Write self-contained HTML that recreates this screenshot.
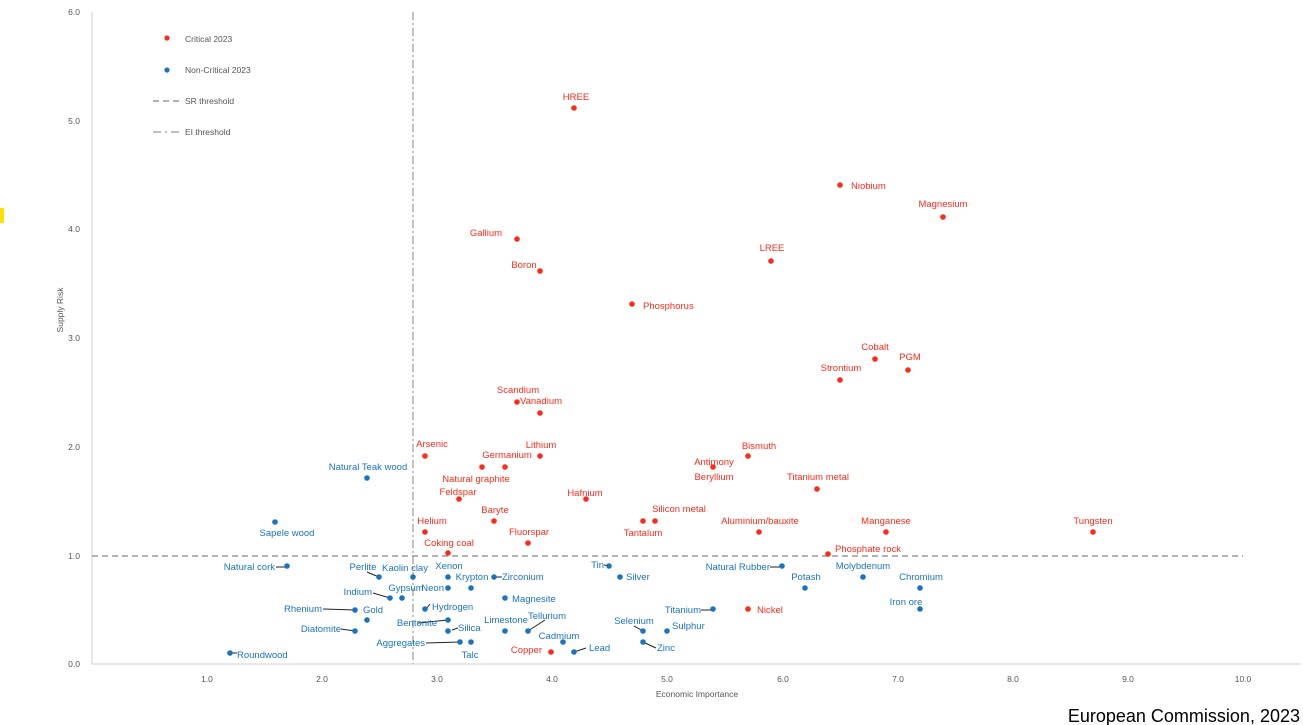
<!DOCTYPE html>
<html><head><meta charset="utf-8"><style>
body{margin:0;background:#fff;width:1303px;height:725px;overflow:hidden;position:relative}
svg{position:absolute;left:0;top:0}
.t{font-family:"Liberation Sans",sans-serif;font-size:9.5px;}
.r{fill:#ff2a1a}.b{fill:#1a73c0}
.tk{fill:#555;font-size:8.5px}
</style></head><body>
<div style="position:absolute;left:0;top:208px;width:4px;height:15px;background:#ffe000"></div>
<svg width="1303" height="725" class="t">
<line x1="92" y1="12" x2="92" y2="664" stroke="#d0d0d0"/>
<line x1="92" y1="664" x2="1300" y2="664" stroke="#d0d0d0"/>
<line x1="92" y1="556" x2="1243" y2="556" stroke="#999" stroke-width="1.6" stroke-dasharray="6,4"/>
<line x1="413" y1="12" x2="413" y2="664" stroke="#999" stroke-width="1.2" stroke-dasharray="8,3,2,3"/>
<g class="tk" text-anchor="end">
<text x="80" y="15">6.0</text><text x="80" y="124">5.0</text><text x="80" y="232">4.0</text><text x="80" y="341">3.0</text><text x="80" y="450">2.0</text><text x="80" y="559">1.0</text><text x="80" y="667">0.0</text>
</g>
<g class="tk" text-anchor="middle">
<text x="207" y="682">1.0</text><text x="322" y="682">2.0</text><text x="437" y="682">3.0</text><text x="552" y="682">4.0</text><text x="667" y="682">5.0</text><text x="783" y="682">6.0</text><text x="898" y="682">7.0</text><text x="1013" y="682">8.0</text><text x="1128" y="682">9.0</text><text x="1243" y="682">10.0</text>
<text x="697" y="697">Economic Importance</text>
<text transform="translate(63,310) rotate(-90)">Supply Risk</text>
</g>
<!-- legend -->
<circle cx="167" cy="38" r="2.6" fill="#ff2a1a"/><text x="185" y="42" class="tk">Critical 2023</text>
<circle cx="167" cy="70" r="2.6" fill="#1a73c0"/><text x="185" y="73" class="tk">Non-Critical 2023</text>
<line x1="153" y1="101" x2="183" y2="101" stroke="#999" stroke-width="1.6" stroke-dasharray="6,4"/><text x="185" y="104" class="tk">SR threshold</text>
<line x1="153" y1="132" x2="183" y2="132" stroke="#999" stroke-width="1.2" stroke-dasharray="8,4,2,4"/><text x="185" y="135" class="tk">EI threshold</text>
<!-- leader lines -->
<g stroke="#222" stroke-width="1" fill="none">
<path d="M276,567H287"/><path d="M367,572L379,577"/><path d="M373,593L390,598"/><path d="M323,609L355,610"/><path d="M341,629L355,631"/><path d="M418,623L448,620"/><path d="M452,630L458,628"/><path d="M426,609L430,604"/><path d="M426,643L460,642"/><path d="M528,631L545,620"/><path d="M574,652L586,648"/><path d="M495,577H502"/><path d="M604,565L609,566"/><path d="M770,567H782"/><path d="M701,610H713"/><path d="M634,626L643,631"/><path d="M643,642L656,648"/><path d="M230,653H237"/>
</g>
<g class="r">
<circle cx="574" cy="108" r="2.8"/><circle cx="840" cy="185" r="2.8"/><circle cx="943" cy="217" r="2.8"/><circle cx="517" cy="239" r="2.8"/><circle cx="771" cy="261" r="2.8"/><circle cx="540" cy="271" r="2.8"/><circle cx="632" cy="304" r="2.8"/><circle cx="875" cy="359" r="2.8"/><circle cx="908" cy="370" r="2.8"/><circle cx="840" cy="380" r="2.8"/><circle cx="517" cy="402" r="2.8"/><circle cx="540" cy="413" r="2.8"/><circle cx="425" cy="456" r="2.8"/><circle cx="540" cy="456" r="2.8"/><circle cx="482" cy="467" r="2.8"/><circle cx="505" cy="467" r="2.8"/><circle cx="748" cy="456" r="2.8"/><circle cx="713" cy="467" r="2.8"/><circle cx="817" cy="489" r="2.8"/><circle cx="459" cy="499" r="2.8"/><circle cx="586" cy="499" r="2.8"/><circle cx="494" cy="521" r="2.8"/><circle cx="643" cy="521" r="2.8"/><circle cx="655" cy="521" r="2.8"/><circle cx="759" cy="532" r="2.8"/><circle cx="886" cy="532" r="2.8"/><circle cx="1093" cy="532" r="2.8"/><circle cx="425" cy="532" r="2.8"/><circle cx="528" cy="543" r="2.8"/><circle cx="448" cy="553" r="2.8"/><circle cx="828" cy="554" r="2.8"/><circle cx="551" cy="652" r="2.8"/><circle cx="748" cy="609" r="2.8"/>
</g>
<g class="r" text-anchor="middle">
<text x="576" y="100">HREE</text><text x="943" y="207">Magnesium</text><text x="486" y="236">Gallium</text><text x="772" y="251">LREE</text><text x="524" y="268">Boron</text><text x="875" y="350">Cobalt</text><text x="910" y="360">PGM</text><text x="841" y="371">Strontium</text><text x="518" y="393">Scandium</text><text x="541" y="404">Vanadium</text><text x="432" y="447">Arsenic</text><text x="541" y="448">Lithium</text><text x="507" y="458">Germanium</text><text x="759" y="449">Bismuth</text><text x="714" y="465">Antimony</text><text x="714" y="480">Beryllium</text><text x="476" y="482">Natural graphite</text><text x="818" y="480">Titanium metal</text><text x="458" y="495">Feldspar</text><text x="585" y="496">Hafnium</text><text x="495" y="513">Baryte</text><text x="679" y="512">Silicon metal</text><text x="643" y="536">Tantalum</text><text x="760" y="524">Aluminium/bauxite</text><text x="886" y="524">Manganese</text><text x="1093" y="524">Tungsten</text><text x="432" y="524">Helium</text><text x="529" y="535">Fluorspar</text><text x="449" y="546">Coking coal</text>
</g>
<g class="r"><text x="851" y="189">Niobium</text><text x="643" y="309">Phosphorus</text><text x="835" y="552">Phosphate rock</text><text x="757" y="613">Nickel</text><text x="542" y="653" text-anchor="end">Copper</text></g>
<g class="b">
<circle cx="367" cy="478" r="2.8"/><circle cx="275" cy="522" r="2.8"/><circle cx="287" cy="566" r="2.8"/><circle cx="379" cy="577" r="2.8"/><circle cx="413" cy="577" r="2.8"/><circle cx="448" cy="577" r="2.8"/><circle cx="471" cy="588" r="2.8"/><circle cx="494" cy="577" r="2.8"/><circle cx="448" cy="588" r="2.8"/><circle cx="390" cy="598" r="2.8"/><circle cx="402" cy="598" r="2.8"/><circle cx="505" cy="598" r="2.8"/><circle cx="355" cy="610" r="2.8"/><circle cx="367" cy="620" r="2.8"/><circle cx="425" cy="609" r="2.8"/><circle cx="448" cy="620" r="2.8"/><circle cx="355" cy="631" r="2.8"/><circle cx="448" cy="631" r="2.8"/><circle cx="505" cy="631" r="2.8"/><circle cx="528" cy="631" r="2.8"/><circle cx="460" cy="642" r="2.8"/><circle cx="471" cy="642" r="2.8"/><circle cx="563" cy="642" r="2.8"/><circle cx="574" cy="652" r="2.8"/><circle cx="230" cy="653" r="2.8"/><circle cx="609" cy="566" r="2.8"/><circle cx="620" cy="577" r="2.8"/><circle cx="782" cy="566" r="2.8"/><circle cx="805" cy="588" r="2.8"/><circle cx="863" cy="577" r="2.8"/><circle cx="920" cy="588" r="2.8"/><circle cx="920" cy="609" r="2.8"/><circle cx="713" cy="609" r="2.8"/><circle cx="643" cy="631" r="2.8"/><circle cx="667" cy="631" r="2.8"/><circle cx="643" cy="642" r="2.8"/>
</g>
<g class="b" text-anchor="middle">
<text x="368" y="470">Natural Teak wood</text><text x="287" y="536">Sapele wood</text><text x="363" y="570">Perlite</text><text x="405" y="571">Kaolin clay</text><text x="449" y="569">Xenon</text><text x="472" y="580">Krypton</text><text x="406" y="591">Gypsum</text><text x="417" y="626">Bentonite</text><text x="506" y="623">Limestone</text><text x="547" y="619">Tellurium</text><text x="470" y="658">Talc</text><text x="559" y="639">Cadmium</text><text x="806" y="580">Potash</text><text x="863" y="569">Molybdenum</text><text x="921" y="580">Chromium</text><text x="906" y="605">Iron ore</text><text x="634" y="624">Selenium</text>
</g>
<g class="b" text-anchor="end">
<text x="275" y="570">Natural cork</text><text x="444" y="591">Neon</text><text x="372" y="595">Indium</text><text x="322" y="612">Rhenium</text><text x="341" y="632">Diatomite</text><text x="425" y="646">Aggregates</text><text x="604" y="568">Tin</text><text x="770" y="570">Natural Rubber</text><text x="701" y="613">Titanium</text>
</g>
<g class="b">
<text x="502" y="580">Zirconium</text><text x="512" y="602">Magnesite</text><text x="363" y="613">Gold</text><text x="432" y="610">Hydrogen</text><text x="458" y="631">Silica</text><text x="589" y="651">Lead</text><text x="237" y="658">Roundwood</text><text x="626" y="580">Silver</text><text x="672" y="629">Sulphur</text><text x="657" y="651">Zinc</text>
</g>
<text x="1300" y="722" text-anchor="end" style="font-size:18px;fill:#000">European Commission, 2023</text>
</svg>
</body></html>
